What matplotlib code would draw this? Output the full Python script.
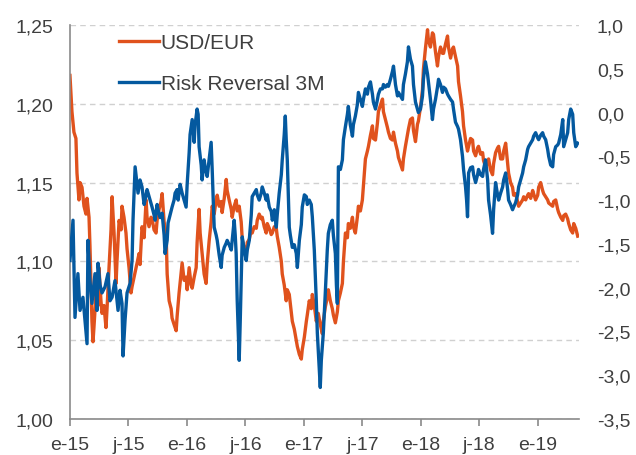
import matplotlib
matplotlib.use("Agg")
import matplotlib.pyplot as plt
from matplotlib.ticker import FuncFormatter

plt.rcParams["font.family"] = ["Liberation Sans", "DejaVu Sans"]

# years since start of 2015
t_usd = [0.000, 0.017, 0.034, 0.051, 0.060, 0.077, 0.086, 0.103, 0.120, 0.137, 0.146, 0.163, 0.171, 0.180, 0.188, 0.197,
         0.205, 0.223, 0.240, 0.248, 0.265, 0.274, 0.291, 0.308, 0.317, 0.334, 0.351, 0.360, 0.377, 0.394, 0.402, 0.420,
         0.437, 0.445, 0.462, 0.479, 0.488, 0.505, 0.522, 0.531, 0.548, 0.565, 0.591, 0.599, 0.616, 0.634, 0.651, 0.659,
         0.676, 0.693, 0.702, 0.719, 0.736, 0.745, 0.762, 0.779, 0.788, 0.805, 0.822, 0.831, 0.848, 0.865, 0.873, 0.890,
         0.908, 0.916, 0.933, 0.950, 0.959, 0.976, 0.993, 1.002, 1.019, 1.036, 1.045, 1.062, 1.079, 1.087, 1.104, 1.113,
         1.130, 1.147, 1.164, 1.173, 1.190, 1.207, 1.216, 1.233, 1.250, 1.259, 1.276, 1.293, 1.301, 1.319, 1.336, 1.344,
         1.361, 1.379, 1.387, 1.404, 1.421, 1.430, 1.447, 1.464, 1.473, 1.490, 1.507, 1.516, 1.533, 1.550, 1.558, 1.575,
         1.593, 1.601, 1.618, 1.635, 1.644, 1.661, 1.678, 1.687, 1.704, 1.721, 1.730, 1.747, 1.764, 1.772, 1.789, 1.807,
         1.815, 1.832, 1.849, 1.858, 1.875, 1.892, 1.901, 1.918, 1.935, 1.944, 1.961, 1.978, 1.986, 2.004, 2.021, 2.029,
         2.046, 2.063, 2.072, 2.089, 2.106, 2.123, 2.140, 2.158, 2.166, 2.183, 2.200, 2.209, 2.226, 2.243, 2.252, 2.269,
         2.286, 2.295, 2.312, 2.329, 2.338, 2.355, 2.372, 2.380, 2.397, 2.415, 2.423, 2.440, 2.457, 2.466, 2.483, 2.500,
         2.509, 2.526, 2.543, 2.552, 2.569, 2.586, 2.594, 2.612, 2.629, 2.637, 2.654, 2.672, 2.680, 2.697, 2.714, 2.723,
         2.740, 2.757, 2.766, 2.783, 2.800, 2.808, 2.826, 2.843, 2.851, 2.868, 2.885, 2.894, 2.911, 2.928, 2.937, 2.954,
         2.971, 2.979, 2.997, 3.014, 3.022, 3.039, 3.057, 3.065, 3.082, 3.099, 3.108, 3.125, 3.142, 3.151, 3.168, 3.185,
         3.194, 3.211, 3.228, 3.236, 3.254, 3.271, 3.279, 3.296, 3.314, 3.322, 3.339, 3.356, 3.365, 3.382, 3.399, 3.408,
         3.425, 3.442, 3.451, 3.468, 3.485, 3.493, 3.511, 3.528, 3.536, 3.553, 3.571, 3.579, 3.596, 3.613, 3.622, 3.639,
         3.656, 3.665, 3.682, 3.699, 3.708, 3.725, 3.742, 3.750, 3.767, 3.784, 3.793, 3.810, 3.827, 3.836, 3.853, 3.870,
         3.879, 3.896, 3.913, 3.921, 3.939, 3.956, 3.964, 3.981, 3.999, 4.007, 4.024, 4.041, 4.050, 4.067, 4.084, 4.093,
         4.110, 4.127, 4.135, 4.153, 4.170, 4.178, 4.196, 4.213, 4.221, 4.238, 4.255, 4.264, 4.281, 4.298, 4.307, 4.324,
         4.341]
usd = [1.218, 1.195, 1.182, 1.178, 1.156, 1.139, 1.150, 1.147, 1.135, 1.130, 1.140, 1.128, 1.110, 1.085, 1.062, 1.049,
       1.058, 1.080, 1.072, 1.096, 1.075, 1.067, 1.072, 1.058, 1.070, 1.096, 1.120, 1.141, 1.118, 1.086, 1.100, 1.126,
       1.120, 1.135, 1.128, 1.118, 1.108, 1.096, 1.080, 1.084, 1.090, 1.096, 1.105, 1.098, 1.122, 1.115, 1.139, 1.128,
       1.122, 1.128, 1.127, 1.120, 1.118, 1.126, 1.133, 1.138, 1.143, 1.125, 1.118, 1.092, 1.075, 1.070, 1.064, 1.060,
       1.056, 1.065, 1.080, 1.092, 1.099, 1.088, 1.090, 1.082, 1.096, 1.085, 1.083, 1.090, 1.096, 1.112, 1.133, 1.118,
       1.105, 1.092, 1.086, 1.098, 1.113, 1.125, 1.135, 1.130, 1.139, 1.142, 1.135, 1.138, 1.131, 1.140, 1.152, 1.145,
       1.139, 1.133, 1.128, 1.135, 1.139, 1.132, 1.135, 1.125, 1.114, 1.108, 1.105, 1.112, 1.114, 1.120, 1.118, 1.122,
       1.121, 1.126, 1.130, 1.127, 1.128, 1.122, 1.118, 1.124, 1.121, 1.117, 1.118, 1.122, 1.121, 1.116, 1.109, 1.100,
       1.092, 1.085, 1.075, 1.082, 1.079, 1.068, 1.062, 1.057, 1.050, 1.046, 1.041, 1.038, 1.044, 1.052, 1.062, 1.066,
       1.075, 1.070, 1.079, 1.072, 1.062, 1.067, 1.060, 1.054, 1.062, 1.071, 1.077, 1.082, 1.075, 1.070, 1.066, 1.061,
       1.068, 1.075, 1.080, 1.086, 1.100, 1.118, 1.115, 1.124, 1.121, 1.128, 1.122, 1.118, 1.128, 1.135, 1.132, 1.139,
       1.148, 1.165, 1.170, 1.173, 1.180, 1.186, 1.178, 1.177, 1.188, 1.195, 1.199, 1.203, 1.195, 1.190, 1.185, 1.182,
       1.178, 1.177, 1.182, 1.175, 1.170, 1.166, 1.162, 1.158, 1.165, 1.173, 1.180, 1.184, 1.190, 1.191, 1.183, 1.176,
       1.187, 1.189, 1.198, 1.209, 1.222, 1.235, 1.247, 1.240, 1.236, 1.245, 1.244, 1.233, 1.224, 1.230, 1.236, 1.232,
       1.232, 1.238, 1.243, 1.236, 1.229, 1.235, 1.236, 1.230, 1.224, 1.214, 1.205, 1.195, 1.186, 1.177, 1.170, 1.173,
       1.178, 1.177, 1.170, 1.167, 1.172, 1.173, 1.168, 1.169, 1.164, 1.160, 1.163, 1.165, 1.158, 1.155, 1.162, 1.169,
       1.172, 1.173, 1.165, 1.165, 1.170, 1.175, 1.162, 1.156, 1.150, 1.147, 1.142, 1.143, 1.138, 1.135, 1.137, 1.139,
       1.141, 1.139, 1.142, 1.143, 1.140, 1.145, 1.143, 1.139, 1.142, 1.147, 1.150, 1.145, 1.143, 1.141, 1.139, 1.137,
       1.136, 1.135, 1.138, 1.139, 1.133, 1.131, 1.128, 1.126, 1.129, 1.130, 1.127, 1.124, 1.120, 1.118, 1.124, 1.121,
       1.116]

t_rr = [0.000, 0.026, 0.043, 0.068, 0.086, 0.111, 0.128, 0.146, 0.154, 0.171, 0.188, 0.214, 0.231, 0.240, 0.257, 0.274,
        0.300, 0.325, 0.342, 0.360, 0.385, 0.411, 0.428, 0.445, 0.454, 0.471, 0.488, 0.514, 0.531, 0.539, 0.557, 0.574,
        0.582, 0.599, 0.616, 0.634, 0.642, 0.659, 0.668, 0.685, 0.702, 0.719, 0.728, 0.745, 0.753, 0.771, 0.788, 0.805,
        0.813, 0.831, 0.839, 0.856, 0.873, 0.890, 0.899, 0.916, 0.925, 0.942, 0.959, 0.976, 0.993, 1.002, 1.019, 1.027,
        1.045, 1.062, 1.070, 1.087, 1.096, 1.104, 1.122, 1.130, 1.147, 1.156, 1.173, 1.190, 1.207, 1.216, 1.233, 1.250,
        1.259, 1.276, 1.293, 1.301, 1.319, 1.336, 1.344, 1.361, 1.379, 1.387, 1.404, 1.413, 1.421, 1.430, 1.447, 1.456,
        1.473, 1.490, 1.507, 1.516, 1.533, 1.550, 1.558, 1.575, 1.593, 1.601, 1.618, 1.635, 1.644, 1.661, 1.678, 1.687,
        1.704, 1.721, 1.730, 1.747, 1.764, 1.772, 1.789, 1.807, 1.815, 1.832, 1.841, 1.849, 1.858, 1.875, 1.884, 1.901,
        1.918, 1.935, 1.944, 1.961, 1.978, 1.986, 2.004, 2.021, 2.029, 2.046, 2.063, 2.072, 2.089, 2.106, 2.115, 2.123,
        2.140, 2.149, 2.166, 2.183, 2.200, 2.209, 2.226, 2.243, 2.252, 2.269, 2.278, 2.286, 2.295, 2.312, 2.329, 2.338,
        2.355, 2.372, 2.380, 2.397, 2.415, 2.423, 2.440, 2.457, 2.466, 2.483, 2.500, 2.509, 2.526, 2.543, 2.552, 2.569,
        2.586, 2.594, 2.612, 2.629, 2.637, 2.654, 2.672, 2.680, 2.697, 2.714, 2.723, 2.740, 2.757, 2.766, 2.783, 2.800,
        2.808, 2.826, 2.843, 2.851, 2.868, 2.885, 2.894, 2.911, 2.928, 2.937, 2.954, 2.971, 2.979, 2.997, 3.014, 3.022,
        3.039, 3.057, 3.065, 3.082, 3.099, 3.108, 3.125, 3.142, 3.151, 3.168, 3.185, 3.194, 3.211, 3.228, 3.236, 3.254,
        3.271, 3.279, 3.296, 3.314, 3.322, 3.339, 3.356, 3.365, 3.382, 3.391, 3.399, 3.408, 3.425, 3.442, 3.451, 3.468,
        3.485, 3.493, 3.511, 3.528, 3.536, 3.553, 3.571, 3.579, 3.596, 3.613, 3.622, 3.639, 3.656, 3.665, 3.682, 3.699,
        3.708, 3.725, 3.742, 3.750, 3.767, 3.784, 3.793, 3.810, 3.827, 3.836, 3.853, 3.870, 3.879, 3.896, 3.913, 3.921,
        3.939, 3.956, 3.964, 3.981, 3.999, 4.007, 4.024, 4.041, 4.050, 4.067, 4.084, 4.093, 4.110, 4.127, 4.135, 4.153,
        4.170, 4.178, 4.196, 4.213, 4.221, 4.238, 4.255, 4.264, 4.281, 4.298, 4.307, 4.324, 4.341]
rr = [-1.69, -1.23, -2.34, -1.84, -2.26, -2.11, -2.37, -2.64, -1.46, -1.92, -2.18, -1.84, -2.26, -1.72, -1.97, -2.06,
      -1.99, -1.84, -2.15, -2.11, -1.92, -2.26, -2.03, -2.18, -2.78, -2.37, -2.06, -1.95, -1.69, -1.23, -0.62, -0.82,
      -0.92, -0.77, -0.85, -1.05, -1.00, -0.88, -0.92, -1.00, -1.08, -1.17, -1.23, -1.05, -1.11, -1.20, -1.15, -1.40,
      -1.61, -1.46, -1.26, -1.17, -1.08, -1.00, -0.92, -0.88, -1.00, -0.82, -0.92, -1.00, -1.08, -0.82, -0.46, -0.25,
      -0.08, -0.34, -0.14, 0.04, -0.02, -0.39, -0.60, -0.77, -0.54, -0.63, -0.73, -0.54, -0.34, -0.65, -1.31, -1.40,
      -1.46, -1.63, -1.77, -1.63, -1.54, -1.49, -1.46, -1.51, -1.57, -1.46, -1.23, -1.40, -1.61, -2.15, -2.83, -2.37,
      -1.42, -1.57, -1.69, -1.57, -1.46, -1.17, -0.96, -0.92, -0.88, -0.94, -1.00, -0.92, -0.85, -0.92, -1.00, -0.94,
      -1.08, -1.13, -1.23, -1.11, -1.31, -1.17, -0.92, -0.71, -0.54, -0.25, -0.04, -0.31, -0.54, -1.31, -1.40, -1.54,
      -1.51, -1.61, -1.77, -1.46, -1.28, -1.08, -0.94, -0.96, -1.05, -1.00, -1.05, -1.19, -1.57, -2.15, -2.52, -2.72,
      -3.14, -2.83, -2.52, -2.06, -1.57, -1.38, -1.28, -1.23, -1.40, -1.61, -1.97, -2.18, -0.62, -0.65, -0.54, -0.31,
      -0.16, -0.02, 0.07, -0.14, -0.27, -0.14, -0.04, 0.09, 0.23, 0.15, 0.07, 0.15, 0.27, 0.21, 0.29, 0.35,
      0.21, 0.12, 0.04, 0.15, 0.21, 0.27, 0.27, 0.32, 0.29, 0.32, 0.30, 0.38, 0.47, 0.53, 0.32, 0.19,
      0.23, 0.19, 0.15, 0.32, 0.44, 0.58, 0.75, 0.61, 0.53, 0.32, 0.12, 0.04, 0.00, 0.04, 0.19, 0.38,
      0.58, 0.44, 0.35, 0.15, -0.08, 0.04, 0.15, 0.29, 0.38, 0.32, 0.23, 0.29, 0.27, 0.21, 0.19, 0.15,
      0.12, 0.04, -0.11, -0.16, -0.19, -0.31, -0.50, -0.65, -0.85, -1.00, -1.19, -0.69, -0.63, -0.62, -0.71, -0.80,
      -0.71, -0.65, -0.71, -0.73, -0.65, -0.54, -0.77, -1.00, -1.17, -1.38, -1.11, -0.80, -0.94, -1.00, -0.92, -0.85,
      -0.77, -0.69, -0.88, -1.00, -1.05, -1.11, -1.08, -1.03, -0.94, -0.85, -0.77, -0.69, -0.62, -0.54, -0.42, -0.39,
      -0.35, -0.31, -0.27, -0.23, -0.29, -0.31, -0.26, -0.23, -0.27, -0.31, -0.42, -0.50, -0.60, -0.62, -0.48, -0.39,
      -0.37, -0.35, -0.25, -0.08, -0.39, -0.31, -0.23, -0.08, 0.04, -0.02, -0.23, -0.39, -0.35]

tick_pos = [0, 0.5, 1, 1.5, 2, 2.5, 3, 3.5, 4]
tick_lab = ["e-15", "j-15", "e-16", "j-16", "e-17", "j-17", "e-18", "j-18", "e-19"]

ORANGE = "#E0521D"
BLUE = "#04599F"
GREY = "#8a8a8a"
TXT = "#3f3f3f"

x_usd = [2015 + t for t in t_usd]
x_rr = [2015 + t for t in t_rr]

fig = plt.figure(figsize=(6.36, 4.56), dpi=100)
ax = fig.add_axes([0.110, 0.079, 0.800, 0.864])
ax2 = ax.twinx()

l1, = ax.plot(x_usd, usd, color=ORANGE, lw=2.4, label="USD/EUR")
l2, = ax2.plot(x_rr, rr, color=BLUE, lw=2.4, label="Risk Reversal 3M")

ax.set_xlim(2015, 2019.35)
ax.set_ylim(1.0, 1.25)
ax.set_yticks([1.00, 1.05, 1.10, 1.15, 1.20, 1.25])
ax2.set_ylim(-3.5, 1.0)
ax2.set_yticks([1.0, 0.5, 0.0, -0.5, -1.0, -1.5, -2.0, -2.5, -3.0, -3.5])
ax.set_xticks([2015 + p for p in tick_pos])
ax.set_xticklabels(tick_lab)

ax.yaxis.set_major_formatter(FuncFormatter(lambda v, p: f"{v:.2f}".replace(".", ",")))
ax2.yaxis.set_major_formatter(FuncFormatter(lambda v, p: f"{v + 0.0:.1f}".replace(".", ",").replace("-0,0", "0,0")))

ax.yaxis.grid(True, linestyle=(0, (4, 3)), color="#d0d0d0", lw=1.0)
ax.set_axisbelow(True)

for s in ["top", "right"]:
    ax.spines[s].set_visible(False)
for s in ax2.spines.values():
    s.set_visible(False)
ax.spines["left"].set_color(GREY)
ax.spines["bottom"].set_color(GREY)
ax.spines["left"].set_linewidth(1.2)
ax.spines["bottom"].set_linewidth(1.2)

ax.tick_params(axis="y", length=0, pad=12, labelsize=14, labelcolor=TXT)
ax.tick_params(axis="x", length=5, width=1.2, color=GREY, pad=7, labelsize=14, labelcolor=TXT)
ax2.tick_params(axis="y", length=0, pad=13, labelsize=14, labelcolor=TXT)

ax2.legend([l1, l2], ["USD/EUR", "Risk Reversal 3M"], loc="upper left", bbox_to_anchor=(0.08, 1.0),
           frameon=False, fontsize=15, handlelength=1.9, handletextpad=0.1, labelspacing=1.05,
           borderaxespad=0, labelcolor=TXT)

fig.savefig("out.png", dpi=100)
